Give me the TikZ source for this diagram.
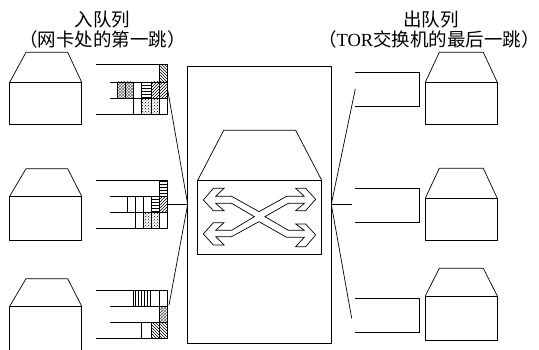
\documentclass[tikz,border=0pt]{standalone}
\usepackage{fontspec}
\setmainfont{Liberation Serif}
\newfontfamily\cjk{Noto Sans CJK SC}
\usetikzlibrary{patterns}

\begin{document}
\begin{tikzpicture}[x=1pt, y=-1pt,
    outline/.style={line width=0.7pt, line join=miter},
    railline/.style={line width=0.9pt},
    wire/.style={line width=0.7pt},
    caption/.style={font=\fontsize{18.5}{18.5}\selectfont, inner sep=0pt},
    cell/.style={line width=0.8pt},
    hatchne/.style={cell, pattern=north east lines},
    hatchnw/.style={cell, pattern=north west lines},
    hatchh/.style={cell, pattern=horizontal lines},
    hatchv/.style={cell, pattern=vertical lines},
    dotfill/.style={cell, pattern=crosshatch dots},
    meshfill/.style={cell, pattern=crosshatch, pattern color=black!60}]
  % A host: #1 = left edge, #2 = top of the roof, #3 = top of the box, #4 = bottom of the box, #5 = roof inset.
  \newcommand{\hostbox}[5]{%
    \draw[outline] (#1,#3) -- (#1+#5,#2) -- (#1+58,#2) -- (#1+72,#3);
    \draw[outline] (#1,#3) rectangle (#1+72,#4);}
  % The four rails of an input queue: #1..#4 = y of the rails from top to bottom.
  \newcommand{\railset}[4]{%
    \draw[railline] (96,#1) -- (167.7,#1);
    \draw[railline] (110,#2) -- (167.7,#2);
    \draw[railline] (110,#3) -- (167.7,#3);
    \draw[railline] (96,#4) -- (167.7,#4);
    \draw[railline] (167.7,#1) -- (167.7,#4);}
  % One packet in a queue: #1 = style, #2 = left, #3 = right, #4 = top, #5 = bottom.
  \newcommand{\packet}[5]{\draw[#1] (#2,#4) rectangle (#3,#5);}
  % An output port: #1 = y of the upper rail, #2 = y of the lower rail.
  \newcommand{\outport}[2]{%
    \draw[railline] (355.3,#1) -- (419.3,#1) -- (419.3,#2) -- (355.3,#2);}

  \useasboundingbox (0,0) rectangle (539,350);

  \node[caption] (intitle) at (102.5,20) {\cjk 入队列};
  \node[caption] (inhop) at (102.5,39) {\cjk （网卡处的第一跳）};
  \node[caption] (outtitle) at (431,20) {\cjk 出队列};
  \node[caption] (outhop) at (429,39) {{\cjk （}TOR{\cjk 交换机的最后一跳）}};

  % hosts on the left and on the right
  \hostbox{9.7}{52.3}{82.3}{124.3}{16.3}
  \hostbox{9.7}{168.7}{196.3}{240.3}{16.3}
  \hostbox{9.7}{278.7}{306.3}{351}{16.3}
  \hostbox{425.3}{52.3}{82.3}{124.3}{14}
  \hostbox{425.3}{168.3}{198.3}{240.3}{14}
  \hostbox{425.3}{268.3}{296}{340.3}{14}

  % first input queue
  \packet{hatchnw}{159.7}{167.7}{64.7}{82}
  \packet{meshfill}{117.3}{125.3}{82}{98.3}
  \packet{meshfill}{125.3}{133.3}{82}{98.3}
  \packet{cell}{133.3}{141.7}{82}{98.3}
  \packet{hatchh}{141.7}{151.7}{82}{98.3}
  \packet{hatchne}{151.7}{159.7}{82}{98.3}
  \packet{hatchne}{159.7}{167.7}{82}{98.3}
  \packet{cell}{133.3}{141.7}{98.3}{114.3}
  \packet{dotfill}{141.7}{151.7}{98.3}{114.3}
  \packet{dotfill}{151.7}{159.7}{98.3}{114.3}
  \railset{64.7}{82}{98.3}{114.3}

  % second input queue
  \packet{hatchh}{159.7}{167.7}{180.3}{196.7}
  \packet{cell}{127.3}{135.7}{196.7}{212.3}
  \packet{cell}{135.7}{143.3}{196.7}{212.3}
  \packet{cell}{143.3}{151.3}{196.7}{212.3}
  \packet{hatchh}{151.3}{159.7}{196.7}{212.3}
  \packet{hatchne}{159.7}{167.7}{196.7}{212.3}
  \packet{cell}{135.7}{143.3}{212.3}{228.3}
  \packet{dotfill}{143.3}{151.3}{212.3}{228.3}
  \packet{dotfill}{151.3}{159.7}{212.3}{228.3}
  \railset{180.3}{196.7}{212.3}{228.3}

  % third input queue
  \packet{hatchv}{133.3}{141.7}{290.3}{306.3}
  \packet{hatchv}{141.7}{150}{290.3}{306.3}
  \packet{cell}{159.7}{167.7}{290.3}{306.3}
  \packet{meshfill}{159.7}{167.7}{306.3}{322.3}
  \packet{cell}{141.7}{151.3}{322.3}{338.3}
  \packet{hatchnw}{151.3}{159.7}{322.3}{338.3}
  \packet{hatchnw}{159.7}{167.7}{322.3}{338.3}
  \railset{290.3}{306.3}{322.3}{338.3}

  % output ports
  \outport{72.7}{106.3}
  \outport{188.3}{222.3}
  \outport{298.3}{332.3}

  % the switch in the middle
  \draw[outline] (187.7,66) rectangle (331.3,343);
  \draw[outline] (197.7,180.3) -- (223.7,130.3) -- (295.7,130.3) -- (321.7,180.3);
  \draw[outline] (197.7,180.3) rectangle (321.7,254.3);
  \begin{scope}[shift={(185,120)}, x=0.3333pt, y=-0.3333pt]
    \draw[outline] (55,240) -- (85,205) -- (117,205) -- (92,229) -- (140,229) -- (222,275)
      -- (305,229) -- (358,229) -- (332,205) -- (362,205) -- (392,238) -- (362,272) -- (332,272)
      -- (358,250) -- (310,250) -- (240,290) -- (310,331) -- (358,331) -- (332,312) -- (362,312)
      -- (392,345) -- (362,380) -- (332,380) -- (358,352) -- (305,352) -- (222,305) -- (140,350)
      -- (92,350) -- (117,375) -- (85,375) -- (55,342) -- (85,308) -- (117,308) -- (92,331)
      -- (140,331) -- (208,290) -- (140,250) -- (92,250) -- (117,272) -- (85,272) -- cycle;
  \end{scope}

  % connectors
  \coordinate (inport) at (187.7,204.3);
  \coordinate (outjack) at (331.3,204.3);
  \coordinate (inq1) at (167.7,90);
  \coordinate (inq2) at (167.7,204.3);
  \coordinate (inq3) at (169,305);
  \coordinate (outq1) at (355.3,89);
  \coordinate (outq2) at (351.7,204.3);
  \coordinate (outq3) at (351.7,318.3);
  \draw[wire] (inq1) -- (inport);
  \draw[wire] (inq2) -- (inport);
  \draw[wire] (inq3) -- (inport);
  \draw[wire] (outjack) -- (outq1);
  \draw[wire] (outjack) -- (outq2);
  \draw[wire] (outjack) -- (outq3);
\end{tikzpicture}
\end{document}
